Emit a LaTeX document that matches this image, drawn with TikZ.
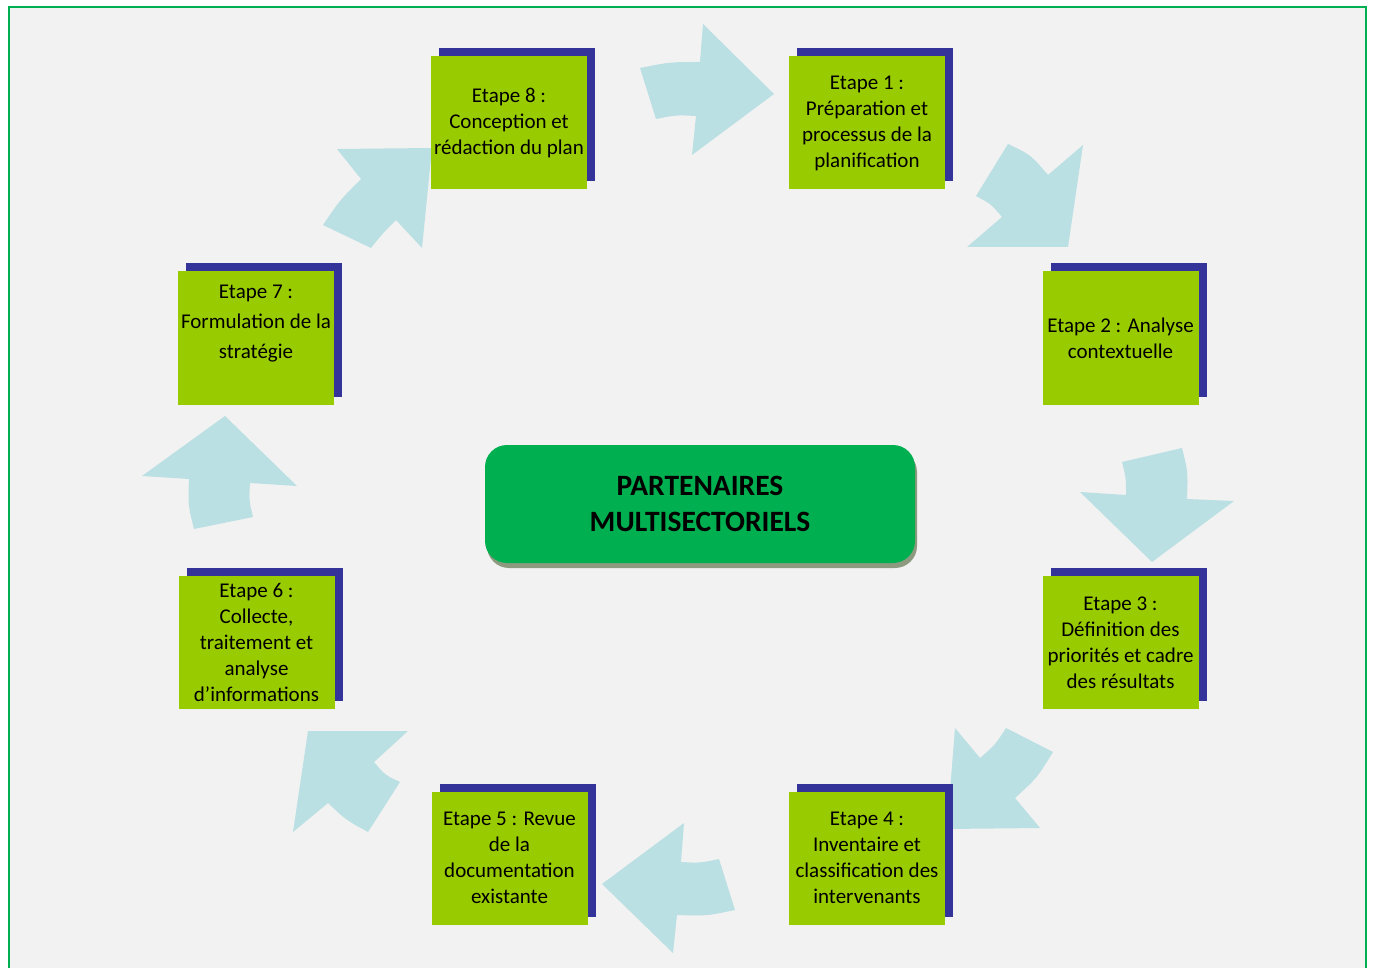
\documentclass[tikz,border=0pt]{standalone}
\usepackage{fontspec}
\setmainfont{Carlito}
\usetikzlibrary{shadows}
\definecolor{bgcol}{HTML}{F2F2F2}
\definecolor{framecol}{HTML}{00B050}
\definecolor{stepgreen}{HTML}{99CC00}
\definecolor{navy}{HTML}{333399}
\definecolor{arrowcol}{HTML}{BBE0E3}
\definecolor{centergreen}{HTML}{00B050}
\definecolor{shadecol}{HTML}{8E9A80}
\tikzset{
  stepbox/.style={fill=stepgreen, minimum width=156pt, minimum height=133pt, inner sep=0pt,
    align=center, font=\fontsize{21}{26}\selectfont,
    drop shadow={shadow xshift=8pt, shadow yshift=8pt, fill=navy, opacity=1}},
  steptext/.style={inner sep=0pt, align=center, font=\fontsize{21}{30}\selectfont},
  centerbox/.style={fill=centergreen, rounded corners=22pt, minimum width=430pt, minimum height=118pt,
    align=center, font=\fontsize{29.5}{36}\selectfont\bfseries,
    drop shadow={shadow xshift=2pt, shadow yshift=-5pt, fill=shadecol, opacity=1}},
  blockarrow/.style={fill=arrowcol}
}
\begin{document}
\begin{tikzpicture}[x=1pt,y=-1pt]
\useasboundingbox (0,0) rectangle (1374,968);
\fill[white] (0,0) rectangle (1374,968);
\fill[bgcol] (9,7) rectangle (1366,980);
\draw[framecol, line width=2pt] (9,980) -- (9,7) -- (1366,7) -- (1366,980);

% arrows
% 8 -> 1
\fill[blockarrow] (640,68) .. controls (670,62) .. (700,62) -- (703,24) -- (774,94) -- (692,155) -- (696,116) .. controls (676,115) .. (656,119) -- cycle;
% 1 -> 2
\fill[blockarrow] (1008,144) .. controls (1031,155) .. (1048,175) -- (1083,145) -- (1068,247) -- (967,247) -- (1002,217) .. controls (991,204) .. (976,196) -- cycle;
% 2 -> 3
\fill[blockarrow] (1122,462) -- (1182,448) .. controls (1188,472) .. (1187,499) -- (1234,501) -- (1152,562) -- (1080,492) -- (1126,495) .. controls (1126,478) .. (1122,462) -- cycle;
% 3 -> 4
\fill[blockarrow] (955,728) -- (980,758) .. controls (995,745) .. (1006,728) -- (1053,752) .. controls (1037,778) .. (1015,798) -- (1040,828) -- (947,829) -- cycle;
% 4 -> 5
\fill[blockarrow] (684,823) -- (681,862) .. controls (700,863) .. (719,859) -- (735,910) .. controls (706,916) .. (677,915) -- (673,953) -- (602,884) -- cycle;
% 5 -> 6
\fill[blockarrow] (308,731) -- (408,731) -- (374,762) .. controls (385,775) .. (400,782) -- (368,832) .. controls (346,820) .. (328,803) -- (293,832) -- cycle;
% 6 -> 7
\fill[blockarrow] (225,416) -- (297,486) -- (250,483) .. controls (249,500) .. (253,517) -- (194,529) .. controls (188,505) .. (189,479) -- (142,476) -- cycle;
% 7 -> 8
\fill[blockarrow] (337,149) -- (432,148) -- (422,248) -- (396,220) .. controls (383,233) .. (371,248) -- (323,225) .. controls (340,200) .. (361,179) -- cycle;

% step boxes
\node[stepbox] (e8) at (509,123) {Etape 8 :\\Conception et\\rédaction du plan};
\node[stepbox] (e1) at (867,123) {Etape 1 :\\Préparation et\\processus de la\\planification};
\node[stepbox] (e2) at (1120.5,338) {Etape 2 : Analyse\\contextuelle};
\node[stepbox] (e3) at (1120.5,642.5) {Etape 3 :\\Définition des\\priorités et cadre\\des résultats};
\node[stepbox] (e4) at (867,858) {Etape 4 :\\Inventaire et\\classification des\\intervenants};
\node[stepbox] (e5) at (509.5,858) {Etape 5 : Revue\\de la\\documentation\\existante};
\node[stepbox] (e6) at (256.5,642.5) {Etape 6 :\\Collecte,\\traitement et\\analyse\\d’informations};
\node[stepbox] (e7) at (256,338) {};
\node[steptext] (t7) at (256,324) {Etape 7 :\\Formulation de la\\stratégie};

% center
\node[centerbox] (c) at (700,504) {PARTENAIRES\\MULTISECTORIELS};
\end{tikzpicture}
\end{document}
